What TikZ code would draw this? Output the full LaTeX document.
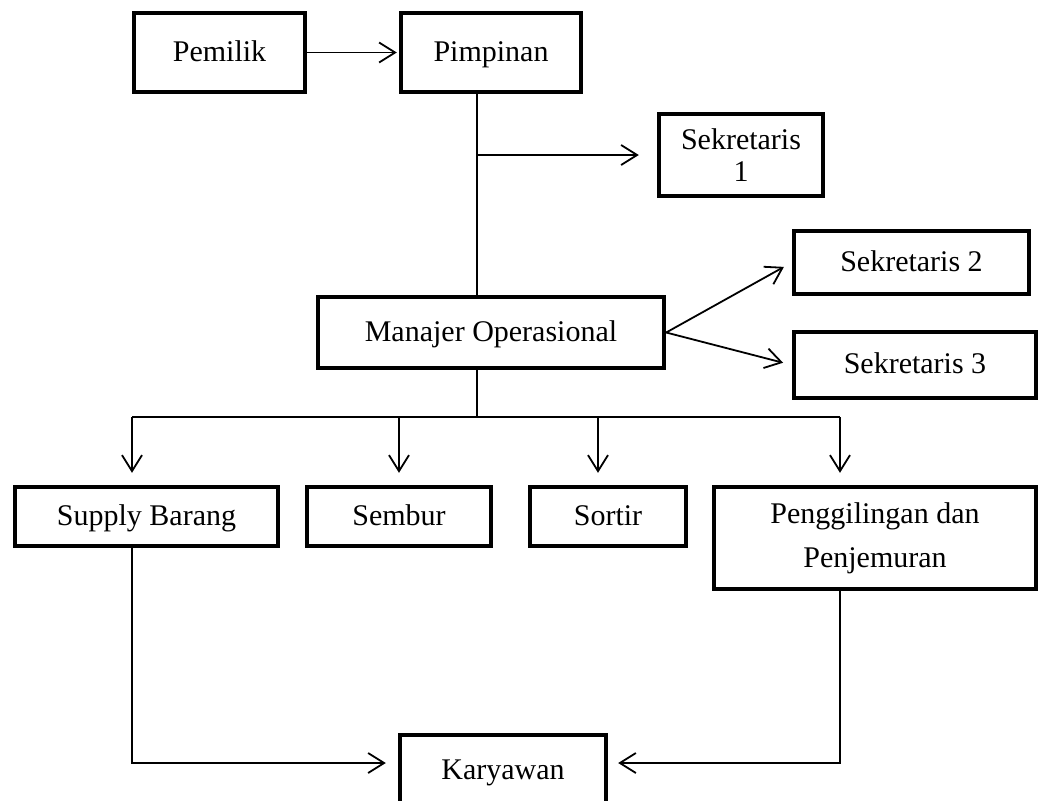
\documentclass[tikz,border=0pt]{standalone}
\usepackage{fontspec}
\setmainfont{Liberation Serif}
\usetikzlibrary{positioning,arrows.meta}

\begin{document}
\begin{tikzpicture}[->,>={Straight Barb[length=8pt,width=10pt]},line width=0.9pt,on grid,
		box/.style={draw,rectangle,line width=2.2pt,align=center,inner sep=0pt,font=\fontsize{15}{16}\selectfont},
		onebox/.style={box,text height=11pt,text depth=2.5pt}]
		\useasboundingbox (0,0) rectangle (520pt,-400pt);
		\node[onebox,minimum width=85.5pt,minimum height=39.5pt] (pemilik) at (109.75pt,-26.25pt) {Pemilik};
		\node[onebox,minimum width=90pt,minimum height=39.5pt] (pimpinan) [right=135.75pt of pemilik] {Pimpinan};
		\node[box,minimum width=82pt,minimum height=41pt] (sek_1) [below right=51.25pt and 125pt of pimpinan] {Sekretaris\\1};
		\node[onebox,minimum width=173pt,minimum height=35.5pt] (manajer) [below=140pt of pimpinan] {Manajer Operasional};
		\node[onebox,minimum width=117.5pt,minimum height=31.5pt] (sek_2) [above right=35pt and 210.25pt of manajer] {Sekretaris 2};
		\node[onebox,minimum width=121pt,minimum height=33pt] (sek_3) [below right=16.25pt and 212pt of manajer] {Sekretaris 3};
		\node[onebox,minimum width=92pt,minimum height=29.5pt] (sembur) [below left=92pt and 46pt of manajer] {Sembur};
		\node[onebox,minimum width=131.5pt,minimum height=29.5pt] (supply) [left=126.25pt of sembur] {Supply Barang};
		\node[onebox,minimum width=78pt,minimum height=29.5pt] (sortir) [right=104.5pt of sembur] {Sortir};
		\node[box,minimum width=161pt,minimum height=51pt] (peng) [below right=10.75pt and 133.5pt of sortir] {Penggilingan dan\\[6pt]Penjemuran};
		\node[onebox,minimum width=103pt,minimum height=36pt] (karyawan) [below right=127.25pt and 52pt of sembur] {Karyawan};
		
		\coordinate (spine) at ([xshift=-7pt]pimpinan.south);
		\coordinate (bus) at ([xshift=-7pt,yshift=-23.5pt]manajer.south);
		\coordinate (d_1) at ([xshift=-7.25pt]supply.north);
		\coordinate (d_3) at ([xshift=-5pt]sortir.north);
		\coordinate (d_4) at ([xshift=-17.5pt]peng.north);
		\coordinate (u_1) at ([xshift=-7.25pt]supply.south);
		\coordinate (u_4) at ([xshift=-17.5pt]peng.south);
		\coordinate (k_w) at ([yshift=4pt]karyawan.west);
		\coordinate (k_e) at ([yshift=4pt]karyawan.east);
		
		\path 	(pemilik) edge [shorten >=1pt] (pimpinan)
		(manajer.east) edge [shorten >=4.5pt] (sek_2.west)
		(manajer.east) edge [shorten >=4.5pt] (sek_3.west)
		;
		\draw[-] (spine) -- ([xshift=-7pt]manajer.north);
		\draw[shorten >=9pt] (spine |- sek_1.west) -- (sek_1.west);
		\draw[-] ([xshift=-7pt]manajer.south) -- (bus);
		\draw[-] (d_1 |- bus) -- (d_4 |- bus);
		\draw[shorten >=6pt] (d_1 |- bus) -- (d_1);
		\draw[shorten >=6pt] (sembur.north |- bus) -- (sembur.north);
		\draw[shorten >=6pt] (d_3 |- bus) -- (d_3);
		\draw[shorten >=6pt] (d_4 |- bus) -- (d_4);
		\draw[shorten >=6pt] (u_1) |- (k_w);
		\draw[shorten >=5pt] (u_4) |- (k_e);
	\end{tikzpicture}
\end{document}
